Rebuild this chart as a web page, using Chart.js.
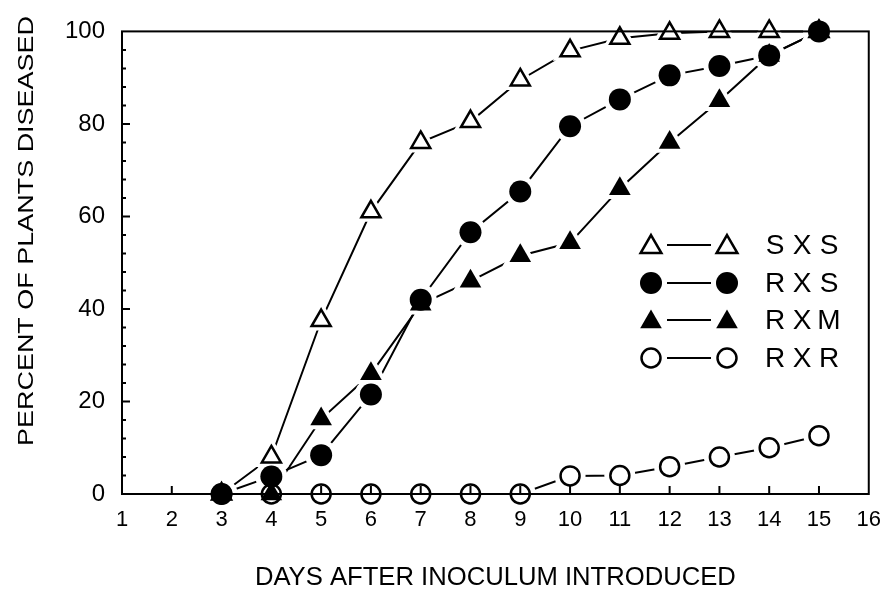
<!DOCTYPE html>
<html lang="en">
    <head>
        <meta charset="utf-8" />
        <script src="https://cdn.jsdelivr.net/npm/chart.js@4.4.1/dist/chart.umd.min.js"></script>
        <title>Plants diseased</title>
        <style>
            body { margin: 0; background: #fff; }
        </style>
    </head>
    <body>
        <canvas id="grafico" width="894" height="591"></canvas>
        <script>
            // days with observations
            const dias = [3, 4, 5, 6, 7, 8, 9, 10, 11, 12, 13, 14, 15];
            // percent of plants diseased, one list per cross
            const sxs = [0, 8, 37.5, 61, 76, 80.5, 89.5, 95.8, 98.5, 99.6, 100, 100, 100];
            const rxs = [0, 3.8, 8.4, 21.5, 42, 56.6, 65.4, 79.5, 85.3, 90.5, 92.5, 94.8, 100];
            const rxm = [0, 0, 16.2, 26, 41, 46, 51.5, 54.3, 66, 76, 85, 94.8, 100];
            const rxr = [0, 0, 0, 0, 0, 0, 0, 3.9, 4, 5.9, 8, 10, 12.6];
            const nombres = ["S X S", "R X S", "R X M", "R X R"];
            const valores = [sxs, rxs, rxm, rxr];
            // x axis 1..16, y axis 0..100
            const xMin = 1, xMax = 16;
            const yMin = 0, yMax = 100, yPaso = 20;

            // marker look per series (kept apart from the values)
            const estilos = [
                { forma: "triangle", r: 12, lleno: false },
                { forma: "circle", r: 11, lleno: true },
                { forma: "triangle", r: 12.5, lleno: true },
                { forma: "circle", r: 10.5, lleno: false }
            ];
            const fuente = '"Liberation Sans", Arial, Helvetica, sans-serif';

            const puntos = vals => dias.map((d, i) => ({ x: d, y: vals[i] }));

            const datasets = [];
            // markers on top (order 1), white halos below them (order 2), lines at the bottom (order 3)
            valores.forEach((vals, i) => {
                const e = estilos[i];
                datasets.push({
                    label: nombres[i],
                    data: puntos(vals),
                    order: 1,
                    showLine: false,
                    clip: false,
                    pointStyle: e.forma,
                    pointRadius: e.lleno ? e.r : e.r - 1,
                    pointBackgroundColor: e.lleno ? "#000" : "rgba(0,0,0,0)",
                    pointBorderColor: "#000",
                    pointBorderWidth: e.lleno ? 0 : 2.5
                });
            });
            valores.forEach((vals, i) => {
                const e = estilos[i];
                datasets.push({
                    label: nombres[i] + " halo",
                    data: puntos(vals),
                    order: 2,
                    showLine: false,
                    clip: false,
                    pointStyle: e.forma,
                    pointRadius: e.forma == "triangle" ? e.r + 8 : e.r + 5,
                    pointBackgroundColor: "#fff",
                    pointBorderWidth: 0
                });
            });
            valores.forEach((vals, i) => {
                datasets.push({
                    label: nombres[i] + " linea",
                    data: puntos(vals),
                    order: 3,
                    borderColor: "#000",
                    borderWidth: 2,
                    pointRadius: 0,
                    tension: 0,
                    clip: false
                });
            });

            function marcador(ctx, e, x, y) {
                ctx.beginPath();
                if (e.forma == "circle") {
                    ctx.arc(x, y, e.lleno ? e.r : e.r - 1, 0, Math.PI * 2);
                } else {
                    const r = e.r;
                    let a = 0;
                    for (let k = 0; k < 3; k++) {
                        const px = x + Math.sin(a) * r, py = y - Math.cos(a) * r;
                        if (k == 0) ctx.moveTo(px, py); else ctx.lineTo(px, py);
                        a += Math.PI * 2 / 3;
                    }
                    ctx.closePath();
                }
                if (e.lleno) { ctx.fillStyle = "#000"; ctx.fill(); }
                else { ctx.lineWidth = 2.5; ctx.strokeStyle = "#000"; ctx.stroke(); }
            }

            function textoAjustado(ctx, txt, cx, cy, ancho, rot) {
                ctx.save();
                ctx.translate(cx, cy);
                ctx.rotate(rot);
                const w = ctx.measureText(txt).width;
                ctx.scale(ancho / w, 1);
                ctx.textAlign = "center";
                ctx.textBaseline = "middle";
                ctx.fillText(txt, 0, 0);
                ctx.restore();
            }

            const marco = {
                id: "marco",
                afterDatasetsDraw(chart) {
                    const { ctx, chartArea: a, scales: { x, y } } = chart;
                    ctx.save();
                    ctx.strokeStyle = "#000";
                    ctx.lineWidth = 2;
                    ctx.strokeRect(a.left, a.top, a.width, a.height);
                    ctx.beginPath();
                    for (let d = xMin + 1; d < xMax; d++) {
                        const px = x.getPixelForValue(d);
                        ctx.moveTo(px, a.bottom);
                        ctx.lineTo(px, a.bottom - 8);
                    }
                    for (let v = yMin + 4; v < yMax; v += 4) {
                        const py = y.getPixelForValue(v);
                        ctx.moveTo(a.left, py);
                        ctx.lineTo(a.left + (v % yPaso == 0 ? 8 : 4), py);
                    }
                    ctx.stroke();
                    ctx.restore();
                },
                afterDraw(chart) {
                    const { ctx, chartArea: a } = chart;
                    ctx.save();
                    ctx.fillStyle = "#000";
                    // axis titles
                    ctx.font = "22px " + fuente;
                    textoAjustado(ctx, "PERCENT OF PLANTS DISEASED", 27, 231, 430, -Math.PI / 2);
                    ctx.font = "26px " + fuente;
                    textoAjustado(ctx, "DAYS AFTER INOCULUM INTRODUCED", (a.left + a.right) / 2, 578, 481, 0);
                    // legend inside the plot
                    const filas = [245, 283, 320, 358];
                    nombres.forEach((n, i) => {
                        const yy = filas[i];
                        const e = estilos[i];
                        marcador(ctx, e, 651, yy + (e.forma == "triangle" ? 2 : 0));
                        marcador(ctx, e, 727, yy + (e.forma == "triangle" ? 2 : 0));
                        ctx.beginPath();
                        ctx.lineWidth = 2;
                        ctx.strokeStyle = "#000";
                        ctx.moveTo(667, yy);
                        ctx.lineTo(711, yy);
                        ctx.stroke();
                        ctx.font = "28px " + fuente;
                        ctx.textAlign = "center";
                        ctx.textBaseline = "middle";
                        n.split(" ").forEach((c, k) => ctx.fillText(c, 775 + k * 27, yy + 1));
                    });
                    ctx.restore();
                }
            };

            new Chart(document.getElementById("grafico").getContext("2d"), {
                type: "line",
                data: { datasets: datasets },
                options: {
                    responsive: false,
                    animation: false,
                    layout: { padding: { top: 26, right: 20, left: 0, bottom: 0 } },
                    plugins: { legend: { display: false }, tooltip: { enabled: false } },
                    scales: {
                        x: {
                            type: "linear",
                            min: xMin,
                            max: xMax,
                            grid: { display: false, drawTicks: false },
                            border: { display: false },
                            ticks: { stepSize: 1, color: "#000", padding: 13, font: { size: 22, family: fuente } },
                            afterFit: s => { s.height = 97; }
                        },
                        y: {
                            min: yMin,
                            max: yMax,
                            grid: { display: false, drawTicks: false },
                            border: { display: false },
                            ticks: { stepSize: yPaso, color: "#000", padding: 17, font: { size: 24, family: fuente } },
                            afterFit: s => { s.width = 122; }
                        }
                    }
                },
                plugins: [marco]
            });
        </script>
    </body>
</html>
